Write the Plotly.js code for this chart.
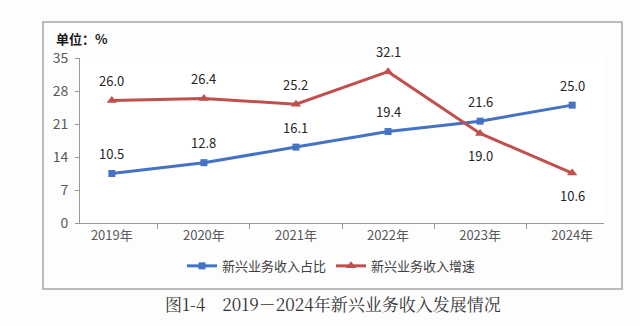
<!DOCTYPE html>
<html><head><meta charset="utf-8">
<script src="https://cdn.plot.ly/plotly-3.0.1.min.js"></script>
<style>body{margin:0;background:#fdfdfe}#c{width:640px;height:326px}</style>
</head><body><div id="c"></div>
<script>
const years = ['2019年','2020年','2021年','2022年','2023年','2024年'];
const shareVals = [10.5, 12.8, 16.1, 19.4, 21.6, 25.0];
const growthVals = [26.0, 26.4, 25.2, 32.1, 19.0, 10.6];
const growthLabelBelow = [false, false, false, false, true, true];
const yTicks = [0, 7, 14, 21, 28, 35];
const seriesNames = ['新兴业务收入占比', '新兴业务收入增速'];
const BLUE = '#4472C4', RED = '#C0504D';
const FONT = '"Noto Sans CJK SC", "Microsoft YaHei", sans-serif';

const traces = [
  {x: years, y: shareVals, name: seriesNames[0], mode: 'lines+markers',
   line: {color: BLUE, width: 3}, marker: {symbol: 'square', size: 7, color: BLUE}},
  {x: years, y: growthVals, name: seriesNames[1], mode: 'lines+markers',
   line: {color: RED, width: 3}, marker: {symbol: 'triangle-up', size: 9, color: RED}}
];

const ann = [];
shareVals.forEach((v, i) => ann.push({x: years[i], y: v, text: v.toFixed(1), showarrow: false,
  yshift: 20, font: {size: 13, color: '#262626', family: FONT}}));
growthVals.forEach((v, i) => ann.push({x: years[i], y: v, text: v.toFixed(1), showarrow: false,
  yshift: growthLabelBelow[i] ? -22 : 20, font: {size: 13, color: '#262626', family: FONT}}));
ann.push({xref: 'paper', yref: 'paper', x: -0.05, y: 1.12, xanchor: 'left', yanchor: 'middle',
  text: '<b>单位：%</b>', showarrow: false, font: {size: 13, color: '#1a1a1a', family: FONT}});
ann.push({xref: 'paper', yref: 'paper', x: 0.482, y: -0.485, xanchor: 'center', yanchor: 'middle',
  text: '图1-4　2019－2024年新兴业务收入发展情况', showarrow: false,
  font: {size: 17, color: '#333333', family: '"Noto Serif CJK SC", "Liberation Serif", serif'}});

const layout = {
  width: 640, height: 326,
  margin: {l: 80, r: 36, t: 58, b: 103},
  paper_bgcolor: '#fdfdfe', plot_bgcolor: '#ffffff',
  font: {family: FONT, color: '#595959', size: 13},
  showlegend: true,
  legend: {orientation: 'h', x: 0.48, xanchor: 'center', y: -0.26, yanchor: 'middle',
    font: {size: 13, color: '#404040'}, bgcolor: 'rgba(0,0,0,0)', itemwidth: 30, tracegroupgap: 0},
  xaxis: {type: 'category', showline: true, linecolor: '#9a9a9a', linewidth: 1,
    ticks: 'outside', ticklen: 5, tickcolor: '#9a9a9a', tickson: 'boundaries',
    showgrid: false, zeroline: false, tickfont: {size: 13, color: '#595959'}, fixedrange: true},
  yaxis: {range: [0, 35], tickvals: yTicks, showline: true, linecolor: '#9a9a9a', linewidth: 1,
    ticks: 'outside', ticklen: 4, tickcolor: '#9a9a9a', showgrid: false, zeroline: false,
    tickfont: {size: 14, color: '#595959'}, ticklabelstandoff: 4},
  annotations: ann,
  shapes: [{type: 'rect', xref: 'paper', yref: 'paper', x0: -0.0706, x1: 1.0344, y0: -0.4, y1: 1.218,
    line: {color: '#a6a6a6', width: 1.5}, fillcolor: 'rgba(0,0,0,0)', layer: 'below'}]
};
Plotly.newPlot('c', traces, layout, {displayModeBar: false, staticPlot: true});
</script></body></html>
